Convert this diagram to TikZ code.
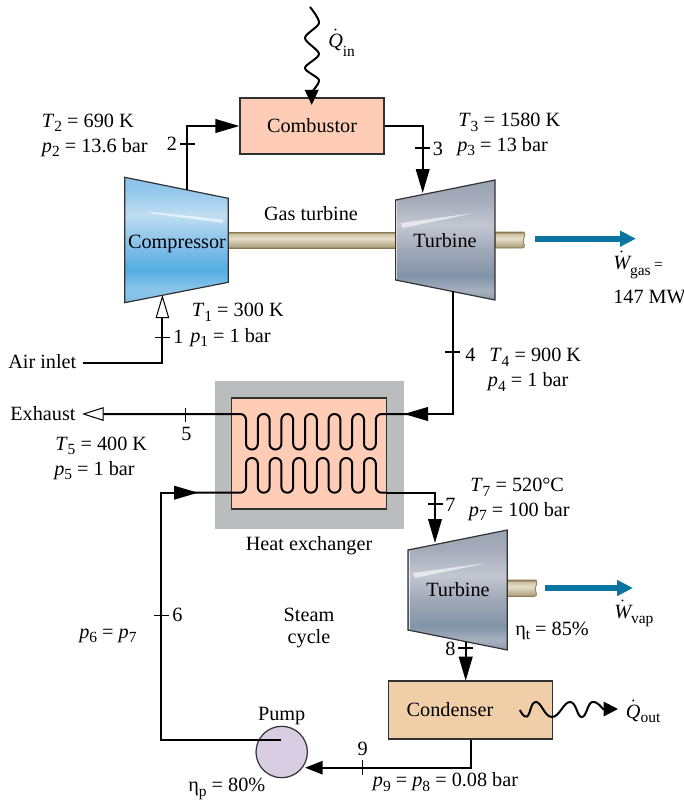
\documentclass[tikz,border=0pt]{standalone}
\usepackage{fontspec}
\setmainfont{Liberation Serif}
\usetikzlibrary{arrows.meta}

% Colours
\definecolor{heatbg}{RGB}{255,204,182}
\definecolor{condbg}{RGB}{240,206,168}
\definecolor{casing}{RGB}{187,188,190}
\definecolor{pumpbg}{RGB}{216,205,226}
\definecolor{workblue}{RGB}{10,117,160}
\definecolor{edgegray}{RGB}{50,50,50}
\definecolor{shaftedge}{RGB}{139,122,80}

% Shadings
\pgfdeclareverticalshading{compshade}{100bp}{rgb(0bp)=(.48,.74,.90); rgb(25bp)=(.48,.74,.90); rgb(30bp)=(.55,.78,.92); rgb(38bp)=(.33,.68,.89); rgb(50bp)=(.56,.77,.92); rgb(60bp)=(.75,.87,.95); rgb(70bp)=(.57,.78,.92); rgb(75bp)=(.55,.76,.92); rgb(100bp)=(.55,.76,.92)}
\pgfdeclareverticalshading{turbshade}{100bp}{rgb(0bp)=(.55,.60,.67); rgb(25bp)=(.55,.60,.67); rgb(29bp)=(.65,.69,.75); rgb(35bp)=(.51,.58,.66); rgb(46bp)=(.63,.66,.72); rgb(56bp)=(.76,.78,.82); rgb(67bp)=(.65,.67,.73); rgb(75bp)=(.60,.64,.69); rgb(100bp)=(.60,.64,.69)}
\pgfdeclareverticalshading{shaftshade}{100bp}{rgb(0bp)=(.55,.48,.31); rgb(25bp)=(.55,.48,.31); rgb(30bp)=(.70,.65,.52); rgb(55bp)=(.90,.87,.79); rgb(68bp)=(.82,.78,.68); rgb(75bp)=(.55,.48,.31); rgb(100bp)=(.55,.48,.31)}

\tikzset{
  lbl/.style={anchor=base west, inner sep=0pt},
  lblc/.style={anchor=base, inner sep=0pt},
  flow/.style={line width=0.5mm, draw=black},
  flowtip/.style={flow, -{Triangle[length=6mm,width=3.4mm]}},
  tick/.style={line width=0.28mm, draw=black},
  box/.style={draw=edgegray, line width=0.3mm, inner sep=0pt},
  coilline/.style={flow, rounded corners=1.45mm},
  worktip/.style={draw=workblue, line width=1.5mm, -{Triangle[length=4mm,width=3.8mm]}},
  gloss/.style={fill=white, opacity=0.6, draw=none},
  shaftbody/.style={shading=shaftshade, draw=shaftedge, line width=0.2mm}
}

\newcommand{\subfont}{\fontsize{11pt}{12pt}\selectfont}
\newcommand{\subvar}[2]{\textit{#1}\raisebox{-.24em}{\subfont #2}}
\newcommand{\etavar}[1]{η\raisebox{-.24em}{\subfont #1}}
\newcommand{\dotvar}[3][.25em]{$\dot{\textit{#2}}$\raisebox{-#1}{\subfont #3}}

\begin{document}
\begin{tikzpicture}[x=0.25mm,y=-0.25mm,font=\fontsize{14.4pt}{18pt}\selectfont]
	\useasboundingbox (0,0) rectangle (684,801);

	% Shafts
	\shade[shaftbody] (228,232) rectangle (396,248);
	\shade[shaftbody] (495,232) -- (524,232) .. controls (527,236) and (521,240) .. (524,244) .. controls (525,247) and (524,248) .. (522,248) -- (495,248) -- cycle;
	\shade[shaftbody] (507,580) -- (536,580) .. controls (539,584) and (533,588) .. (536,592) .. controls (537,595) and (536,596.5) .. (534,596.5) -- (507,596.5) -- cycle;

	% Compressor
	\shade[shading=compshade, draw=edgegray, line width=0.3mm] (124.7,177.3) -- (228.3,198.3) -- (228.3,282.3) -- (124.7,302.7) -- cycle;
	\fill[gloss] (147,211.5) -- (223,219.5) -- (223,223) -- (152,213.5) -- cycle;
	\node[lblc] (compressor) at (177,248) {Compressor};

	% Turbines
	\foreach \tx/\ty in {395.7/180,408/530} {
		\shade[shading=turbshade, draw=edgegray, line width=0.3mm] (\tx,\ty+20) -- (\tx+99.3,\ty) -- (\tx+99.3,\ty+120) -- (\tx,\ty+100) -- cycle;
		\draw[white, line width=0.2mm, opacity=0.7] (\tx+1,\ty+21) -- (\tx+1,\ty+99);
		\fill[gloss] (\tx+5,\ty+43) -- (\tx+78,\ty+33) -- (\tx+60,\ty+37) -- (\tx+7,\ty+48) -- cycle;
	}
	\node[lblc] (gasturbine) at (445,247.7) {Turbine};
	\node[lblc] (steamturbine) at (458,596.7) {Turbine};

	% Combustor
	\node[box, fill=heatbg, minimum width=36mm, minimum height=14mm] (combustor) at (312,126) {Combustor};

	% Heat exchanger
	\node[fill=casing, inner sep=0pt, minimum width=47.25mm, minimum height=37mm] (hxcasing) at (309.5,455) {};
	\node[box, fill=heatbg, minimum width=38.75mm, minimum height=27.75mm] (hxcore) at (309.2,453.5) {};

	% Condenser and pump
	\node[box, fill=condbg, minimum width=41mm, minimum height=14.5mm] (condenser) at (470.7,710) {};
	\node[lblc] (condenserlabel) at (450,716) {Condenser};
	\node[draw=edgegray, line width=0.3mm, circle, fill=pumpbg, inner sep=0pt, minimum size=12.85mm] (pump) at (281.7,752) {};

	% Connection points
	\coordinate (compin) at (162.4,295);
	\coordinate (compout) at (187,190);
	\coordinate (airstart) at (83,363);
	\coordinate (gasin) at (422.7,193);
	\coordinate (gasout) at (452.7,291);
	\coordinate (hotin) at (404,414);
	\coordinate (hotjoin) at (412,414);
	\coordinate (hotexit) at (82,414);
	\coordinate (coldin) at (198,492.7);
	\coordinate (coldjoin) at (190,492.7);
	\coordinate (coldout) at (387,492.7);
	\coordinate (steamin) at (435,543);
	\coordinate (steamout) at (465.7,642);
	\coordinate (condin) at (465.7,680.7);
	\coordinate (pumpin) at (305,767.7);
	\coordinate (pumpout) at (280.7,740);
	\coordinate (qintip) at (311.7,105);
	\coordinate (qouttip) at (618,709);

	% Gas loop
	\draw[flow, -{Triangle[open,fill=white,line width=0.25mm,length=5.8mm,width=3.4mm]}] (airstart) -| (compin);
	\draw[flowtip] (compout) |- (combustor.west);
	\draw[flowtip] (combustor.east) -| (gasin);
	\draw[flowtip] (gasout) |- (hotin);
	\draw[coilline, {Triangle[open,fill=white,line width=0.25mm,length=5.4mm,width=3.4mm]}-] (hotexit) -- (246,414)
		\foreach \i in {0,...,5} { -- ({246+23.6*\i},449.5) -- ({257.8+23.6*\i},449.5) -- ({257.8+23.6*\i},414) -- ({269.6+23.6*\i},414) } -- (hotjoin);

	% Steam loop
	\draw[coilline] (coldjoin) -- (246,492.7)
		\foreach \i in {0,...,5} { -- ({246+23.6*\i},458) -- ({257.8+23.6*\i},458) -- ({257.8+23.6*\i},492.7) -- ({269.6+23.6*\i},492.7) } -- (coldout);
	\draw[flowtip] (coldout) -| (steamin);
	\draw[flowtip] (steamout) -- (condin);
	\draw[flow, -{Triangle[length=4.4mm,width=3.3mm]}] (condenser.south) |- (pumpin);
	\draw[flowtip] (pumpout) -| (161,492.7) -- (coldin);

	% State ticks
	\draw[tick] (155,337.7) -- (170,337.7);
	\draw[tick] (180,144) -- (195,144);
	\draw[tick] (415,148) -- (430,148);
	\draw[tick] (445,352) -- (460,352);
	\draw[tick] (185.7,408) -- (185.7,421.7);
	\draw[tick] (154,615.7) -- (169,615.7);
	\draw[tick] (428,504) -- (443,504);
	\draw[tick] (458,648) -- (473,648);
	\draw[tick] (362.7,760) -- (362.7,775);

	% Heat in and out
	\draw[flow, -{Triangle[length=3.8mm,width=3.4mm]}] plot[smooth] coordinates {(310,7) (319,23) (305,38) (319,54) (305,68) (319,80) (311.7,92)} -- (qintip);
	\draw[flow, -{Triangle[length=3.6mm,width=3.6mm]}] plot[smooth, tension=0.8] coordinates {(520,710) (527,716.5) (536,702) (552,717) (570,702) (581.7,717) (592,702) (603,709)} -- (qouttip);

	% Work out
	\coordinate (gaswork) at (535,238.7);
	\coordinate (gasworktip) at (636,238.7);
	\coordinate (steamwork) at (545,588);
	\coordinate (steamworktip) at (633,588);
	\draw[worktip] (gaswork) -- (gasworktip);
	\draw[worktip] (steamwork) -- (steamworktip);

	% Labels
	\node[lbl] (qin) at (328,47.5) {\dotvar[.45em]{Q}{in}};
	\node[lbl] (t2) at (41.7,127) {\subvar{T}{2} = 690 K};
	\node[lbl] (p2) at (41.7,152) {\subvar{p}{2} = 13.6 bar};
	\node[lbl] (n2) at (166.7,150) {2};
	\node[lbl] (t3) at (458,126.7) {\subvar{T}{3} = 1580 K};
	\node[lbl] (p3) at (457,151) {\subvar{p}{3} = 13 bar};
	\node[lbl] (n3) at (432.7,155) {3};
	\node[lblc] (gaslabel) at (311,220) {Gas turbine};
	\node[lbl] (wgas) at (613,269) {\dotvar[.3em]{W}{gas}\,{\subfont =}};
	\node[lbl] (wgasval) at (613,303) {147 MW};
	\node[lbl] (t1) at (191.7,316.7) {\subvar{T}{1} = 300 K};
	\node[lbl] (p1) at (190,342) {\subvar{p}{1} = 1 bar};
	\node[lbl] (n1) at (173,343) {1};
	\node[lbl] (air) at (8,368) {Air inlet};
	\node[lbl] (n4) at (465,361.7) {4};
	\node[lbl] (t4) at (489,361.7) {\subvar{T}{4} = 900 K};
	\node[lbl] (p4) at (487.7,386.7) {\subvar{p}{4} = 1 bar};
	\node[lbl] (exhaust) at (10,420) {Exhaust};
	\node[lbl] (n5) at (181,440.7) {5};
	\node[lbl] (t5) at (55,450) {\subvar{T}{5} = 400 K};
	\node[lbl] (p5) at (54,475) {\subvar{p}{5} = 1 bar};
	\node[lblc] (hxlabel) at (309,550) {Heat exchanger};
	\node[lbl] (t7) at (470,491.7) {\subvar{T}{7} = 520°C};
	\node[lbl] (p7) at (468.7,516) {\subvar{p}{7} = 100 bar};
	\node[lbl] (n7) at (445,511.7) {7};
	\node[lbl] (wvap) at (614,618) {\dotvar{W}{vap}};
	\node[lbl] (etat) at (515,635) {\etavar{t} = 85\%};
	\node[lbl] (n8) at (445,655) {8};
	\node[lbl] (qout) at (625.7,718) {\dotvar[.2em]{Q}{out}};
	\node[lbl] (p9) at (372.7,786.7) {\subvar{p}{9} = \subvar{p}{8} = 0.08 bar};
	\node[lblc] (pumplabel) at (281.7,720) {Pump};
	\node[lblc] (n9) at (362.7,755) {9};
	\node[lbl] (n6) at (172,621.7) {6};
	\node[lbl] (p6) at (79,638) {\subvar{p}{6} = \subvar{p}{7}};
	\node[lblc] (steamlabel) at (309,621.7) {Steam};
	\node[lblc] (cyclelabel) at (309,643) {cycle};
	\node[lbl] (etap) at (188,791.7) {\etavar{p} = 80\%};

\end{tikzpicture}
\end{document}
